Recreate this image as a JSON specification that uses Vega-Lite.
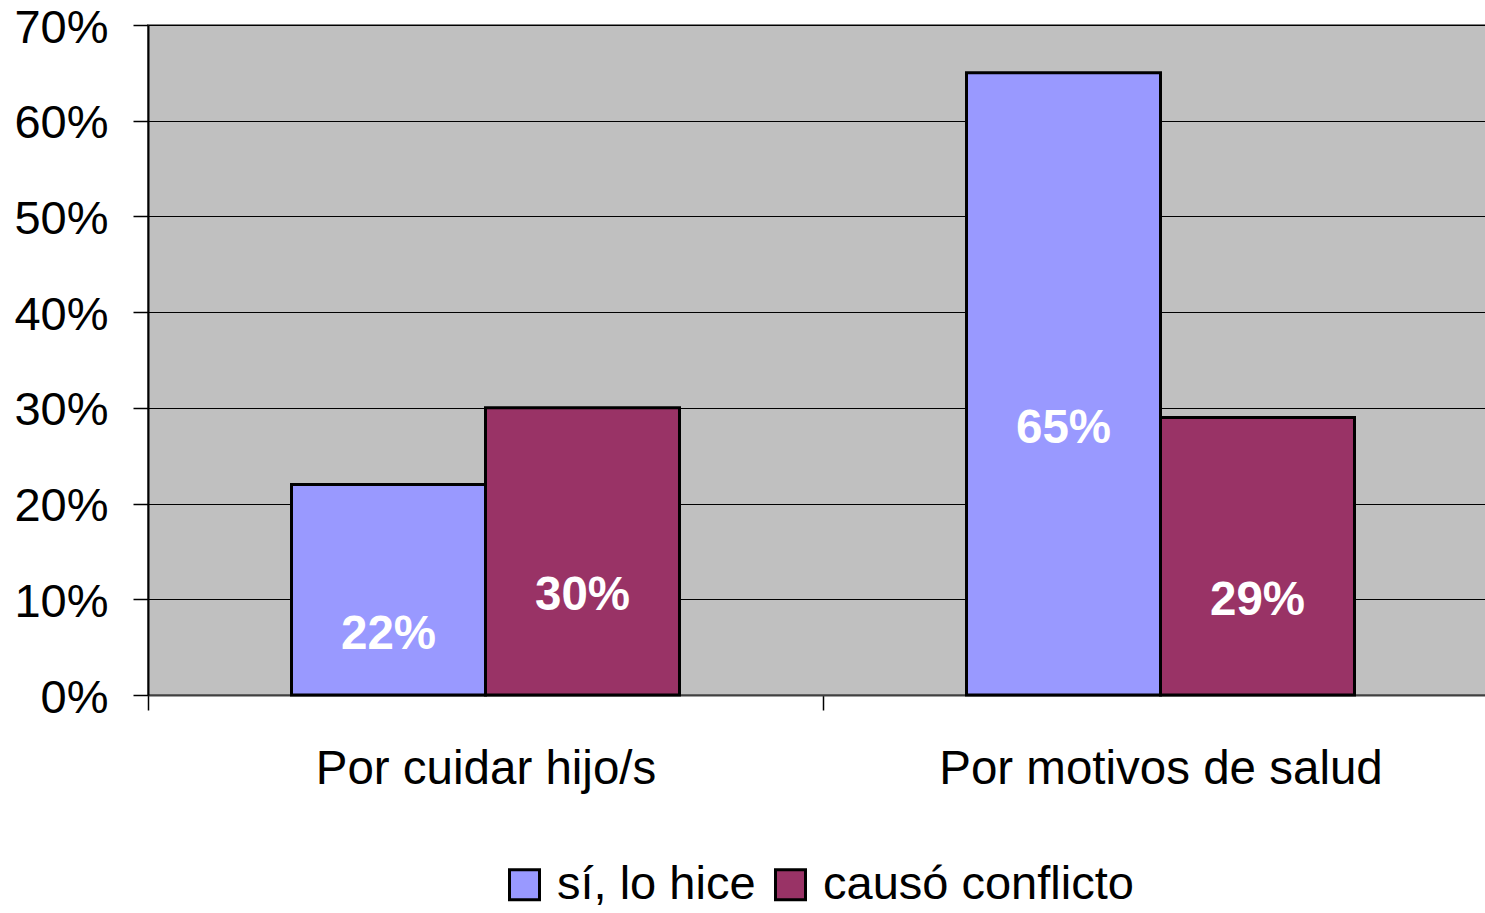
{
  "$schema": "https://vega.github.io/schema/vega-lite/v6.json",
  "autosize": "none",
  "width": 1350,
  "height": 670,
  "padding": {"left": 148, "top": 25, "right": 0, "bottom": 218},
  "background": "white",
  "config": {
    "font": "Liberation Sans",
    "view": {"fill": "#C0C0C0", "stroke": "#808080", "strokeWidth": 2}
  },
  "data": {
    "values": [
      {"motivo": "Por cuidar hijo/s", "serie": "sí, lo hice", "value": 0.22},
      {"motivo": "Por cuidar hijo/s", "serie": "causó conflicto", "value": 0.30},
      {"motivo": "Por motivos de salud", "serie": "sí, lo hice", "value": 0.65},
      {"motivo": "Por motivos de salud", "serie": "causó conflicto", "value": 0.29}
    ]
  },
  "encoding": {
    "x": {
      "field": "motivo", "type": "nominal", "sort": null,
      "scale": {"paddingInner": 0, "paddingOuter": 0},
      "axis": {
        "title": null, "labelAngle": 0, "labelFontSize": 47.5, "labelColor": "black",
        "labelPadding": 35, "labelLimit": 1000, "labelOverlap": false,
        "domainColor": "#404040", "domainWidth": 2,
        "tickBand": "extent", "tickColor": "black", "tickSize": 15, "tickWidth": 1.5,
        "grid": false
      }
    },
    "xOffset": {
      "field": "serie", "type": "nominal", "sort": ["sí, lo hice", "causó conflicto"],
      "scale": {"paddingInner": 0, "paddingOuter": 0.7397}
    }
  },
  "layer": [
    {
      "mark": {"type": "bar", "stroke": "black", "strokeWidth": 3},
      "encoding": {
        "y": {
          "field": "value", "type": "quantitative",
          "scale": {"domain": [0, 0.7], "nice": false},
          "axis": {
            "title": null, "format": ".0%", "values": [0, 0.1, 0.2, 0.3, 0.4, 0.5, 0.6, 0.7],
            "labelOverlap": false, "labelFontSize": 47, "labelColor": "black", "labelPadding": 25,
            "labelOffset": 3,
            "domainColor": "black", "domainWidth": 2,
            "tickColor": "black", "tickSize": 15, "tickWidth": 1.5,
            "grid": true, "gridColor": "black", "gridWidth": 1.2, "gridOpacity": 1
          }
        },
        "color": {
          "field": "serie", "type": "nominal", "sort": ["sí, lo hice", "causó conflicto"],
          "scale": {"domain": ["sí, lo hice", "causó conflicto"], "range": ["#9999FF", "#993366"]},
          "legend": {
            "title": null, "orient": "none", "direction": "horizontal",
            "legendX": 353, "legendY": 836,
            "symbolType": "square", "symbolSize": 900, "symbolStrokeColor": "black",
            "symbolStrokeWidth": 3, "symbolOpacity": 1,
            "labelFontSize": 47, "labelColor": "black", "labelOffset": 9,
            "columnPadding": 11, "labelLimit": 500
          }
        }
      }
    },
    {
      "transform": [{"calculate": "datum.value / 2", "as": "mid"}],
      "mark": {"type": "text", "color": "white", "fontWeight": "bold", "fontSize": 47.5, "baseline": "middle", "dy": 45},
      "encoding": {
        "y": {"field": "mid", "type": "quantitative"},
        "text": {"field": "value", "type": "quantitative", "format": ".0%"}
      }
    }
  ]
}
